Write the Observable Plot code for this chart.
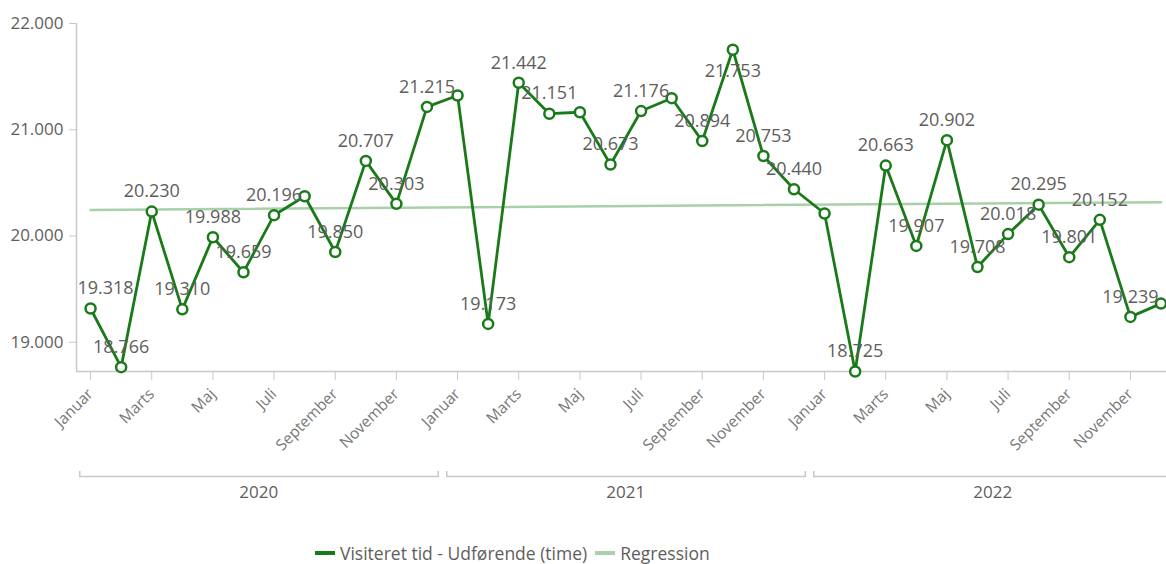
<!DOCTYPE html>
<html>
<head>
<meta charset="utf-8">
<script src="https://cdn.jsdelivr.net/npm/d3@7"></script>
<script src="https://cdn.jsdelivr.net/npm/@observablehq/plot@0.6"></script>
<style>
  html, body { margin: 0; padding: 0; background: #fff; overflow: hidden; }
  #wrap { position: relative; width: 1166px; height: 564px; font-family: "Open Sans", sans-serif; }
  #legend { position: absolute; left: 315px; top: 541px; display: flex; align-items: center; font-size: 17.5px; color: #605e5c; white-space: nowrap; }
  #legend .sw { display: inline-block; width: 20px; height: 4px; margin-right: 5px; }
  #legend .item { display: flex; align-items: center; margin-right: 8px; }
</style>
</head>
<body>
<div id="wrap"><div id="chart"></div><div id="legend"></div></div>
<script>
const months = ["Januar","Februar","Marts","April","Maj","Juni","Juli","August","September","Oktober","November","December"];
const years = [2020, 2021, 2022];
const values = [
  19318, 18766, 20230, 19310, 19988, 19659, 20196, 20374, 19850, 20707, 20303, 21215,
  21322, 19173, 21442, 21151, 21165, 20673, 21176, 21297, 20894, 21753, 20753, 20440,
  20212, 18725, 20663, 19907, 20902, 19708, 20018, 20295, 19801, 20152, 19239, 19364
];
const labels = [
  "19.318","18.766","20.230","19.310","19.988","19.659","20.196",null,"19.850","20.707","20.303","21.215",
  null,"19.173","21.442","21.151",null,"20.673","21.176",null,"20.894","21.753","20.753","20.440",
  null,"18.725","20.663","19.907","20.902","19.708","20.018","20.295","19.801","20.152","19.239",null
];
const yTicks = [19000, 20000, 21000, 22000];
const seriesName = "Visiteret tid - Udførende (time)";
const regressionName = "Regression";
const lineColor = "#1a7a1a";
const regColor = "#a9d1a9";

const data = values.map((v, i) => ({i, v, label: labels[i], year: years[Math.floor(i / 12)]}));
const fmt = d => d3.format(",")(d).replace(/,/g, ".");
const xDomain = [-0.46, 35.18];
const yDomain = [d3.min(values), 22000];
const tickIdx = d3.range(0, 36, 2);
const yearData = years.map((y, k) => ({year: y, mid: k * 12 + 5.5, start: k * 12 - 0.5, end: k * 12 + 11.5}));

const plot = Plot.plot({
  width: 1166,
  height: 530,
  marginLeft: 76,
  marginRight: 0,
  marginTop: 23,
  marginBottom: 159,
  style: {fontFamily: "Open Sans, sans-serif", background: "#fff"},
  x: {domain: xDomain, axis: null},
  y: {domain: yDomain, axis: null},
  marks: [
    Plot.ruleX([xDomain[0]], {stroke: "#c8c8c8", strokeWidth: 1.5}),
    Plot.ruleY([yDomain[0]], {stroke: "#c8c8c8", strokeWidth: 1.5}),
    Plot.axisY({ticks: yTicks, tickFormat: fmt, tickSize: 7, tickPadding: 6, fontSize: 17, stroke: "#c8c8c8", color: "#605e5c", label: null}),
    Plot.axisX({ticks: tickIdx, tickFormat: i => months[i % 12], tickRotate: -45, tickSize: 9, tickPadding: 11, fontSize: 15.5, stroke: "#c8c8c8", color: "#777", label: null}),
    Plot.text(yearData, {x: "mid", text: d => String(d.year), frameAnchor: "bottom", dy: 126, fontSize: 17, fill: "#605e5c"}),
    Plot.linearRegressionY(data, {x: "i", y: "v", ci: 0, stroke: regColor, strokeWidth: 2.5}),
    Plot.line(data, {x: "i", y: "v", stroke: lineColor, strokeWidth: 2.8}),
    Plot.dot(data, {x: "i", y: "v", r: 5, stroke: lineColor, strokeWidth: 2.5, fill: "#fff"}),
    Plot.text(data.filter(d => d.label && d.v < 21600 && d.i > 0), {x: "i", y: "v", text: "label", dy: -20, fontSize: 18, fill: "#605e5c"}),
    Plot.text(data.filter(d => d.label && d.i === 0), {x: "i", y: "v", text: "label", dy: -20, dx: 15, fontSize: 18, fill: "#605e5c"}),
    Plot.text(data.filter(d => d.label && d.v >= 21600), {x: "i", y: "v", text: "label", dy: 21, fontSize: 18, fill: "#605e5c"})
  ]
});

// year brackets under the month axis, positioned through the plot's x scale
const xs = plot.scale("x");
const svg = d3.select(plot);
const gB = svg.append("g").attr("fill", "none").attr("stroke", "#c8c8c8").attr("stroke-width", 1.5);
yearData.forEach(d => {
  const a = xs.apply(d.start) + 5, b = xs.apply(d.end) - 3.5;
  gB.append("path").attr("d", `M${a},471V476.5H${b}V471`);
});

document.getElementById("chart").appendChild(plot);

const legend = document.getElementById("legend");
[[seriesName, lineColor], [regressionName, regColor]].forEach(([name, c]) => {
  const it = document.createElement("span");
  it.className = "item";
  it.innerHTML = `<span class="sw" style="background:${c}"></span><span>${name}</span>`;
  legend.appendChild(it);
});
</script>
</body>
</html>
